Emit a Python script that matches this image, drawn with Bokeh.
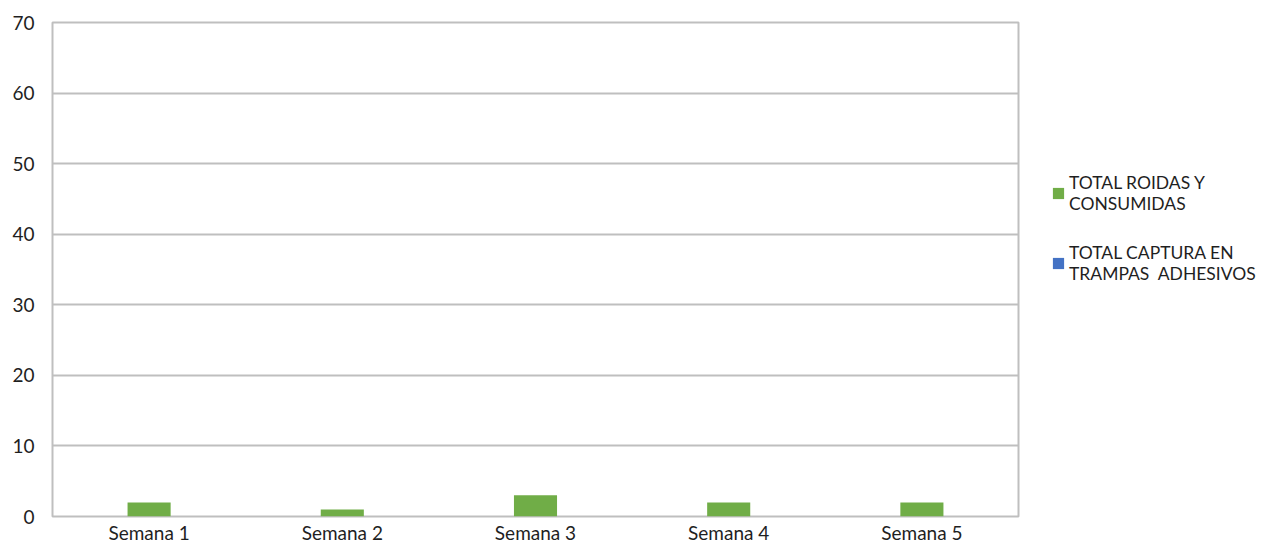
from bokeh.plotting import figure
from bokeh.layouts import row
from bokeh.models import FactorRange, Range1d, Legend, LegendItem, FixedTicker, ColumnDataSource
from bokeh.embed import file_html
from bokeh.resources import INLINE

categories = ["Semana 1", "Semana 2", "Semana 3", "Semana 4", "Semana 5"]
roidas = [2, 1, 3, 2, 2]
captura = [0, 0, 0, 0, 0]
y_ticks = [0, 10, 20, 30, 40, 50, 60, 70]
labels = ["TOTAL ROIDAS Y\nCONSUMIDAS", "TOTAL CAPTURA EN\nTRAMPAS  ADHESIVOS"]
colors = ["#70AD47", "#4472C4"]

FONT = "Lato"
TXT = "#1f1f1f"
GRID = "#BFBFBF"

p = figure(width=1020, height=546, x_range=FactorRange(*categories), y_range=Range1d(0, 70),
           output_backend="svg", toolbar_location=None,
           min_border_left=52, min_border_right=2, min_border_top=22, min_border_bottom=27)

src = ColumnDataSource(dict(cat=categories, roidas=roidas, captura=captura))
r1 = p.vbar(x="cat", top="roidas", width=0.223, source=src, fill_color=colors[0], line_color=None)
r2 = p.vbar(x="cat", top="captura", width=0.223, source=src, fill_color=colors[1], line_color=None)

p.outline_line_color = GRID
p.outline_line_width = 2
p.xgrid.grid_line_color = None
p.ygrid.grid_line_color = GRID
p.ygrid.grid_line_width = 2
p.yaxis.ticker = FixedTicker(ticks=y_ticks)
for ax in (p.xaxis[0], p.yaxis[0]):
    ax.axis_line_color = None
    ax.major_tick_line_color = None
    ax.minor_tick_line_color = None
    ax.major_tick_out = 0
    ax.major_tick_in = 0
    ax.minor_tick_out = 0
    ax.minor_tick_in = 0
    ax.major_label_text_font = FONT
    ax.major_label_text_font_size = "19px"
    ax.major_label_text_color = TXT
p.yaxis.major_label_standoff = 18
p.xaxis.major_label_standoff = 4

# legend panel (same series, hidden renderers used only as legend swatches)
q = figure(width=241, height=546, x_range=FactorRange(*categories), y_range=Range1d(0, 70),
           output_backend="svg", toolbar_location=None,
           min_border=0, outline_line_color=None)
q.axis.visible = False
q.grid.visible = False
lg1 = q.vbar(x="cat", top="roidas", width=0.2, source=src, fill_color=colors[0], line_color=None, visible=False)
lg2 = q.vbar(x="cat", top="captura", width=0.2, source=src, fill_color=colors[1], line_color=None, visible=False)

legend = Legend(items=[LegendItem(label=labels[0], renderers=[lg1]),
                       LegendItem(label=labels[1], renderers=[lg2])],
                location=(31, 232), padding=0, margin=0, spacing=28,
                glyph_width=14, glyph_height=14, label_standoff=4,
                label_text_font=FONT, label_text_font_size="17.5px", label_text_color=TXT,
                label_text_line_height=1.43, inactive_fill_alpha=0,
                border_line_color=None, background_fill_alpha=0)
q.add_layout(legend, "center")

layout = row(p, q, spacing=0)
open("out.html", "w").write(file_html(layout, INLINE))
